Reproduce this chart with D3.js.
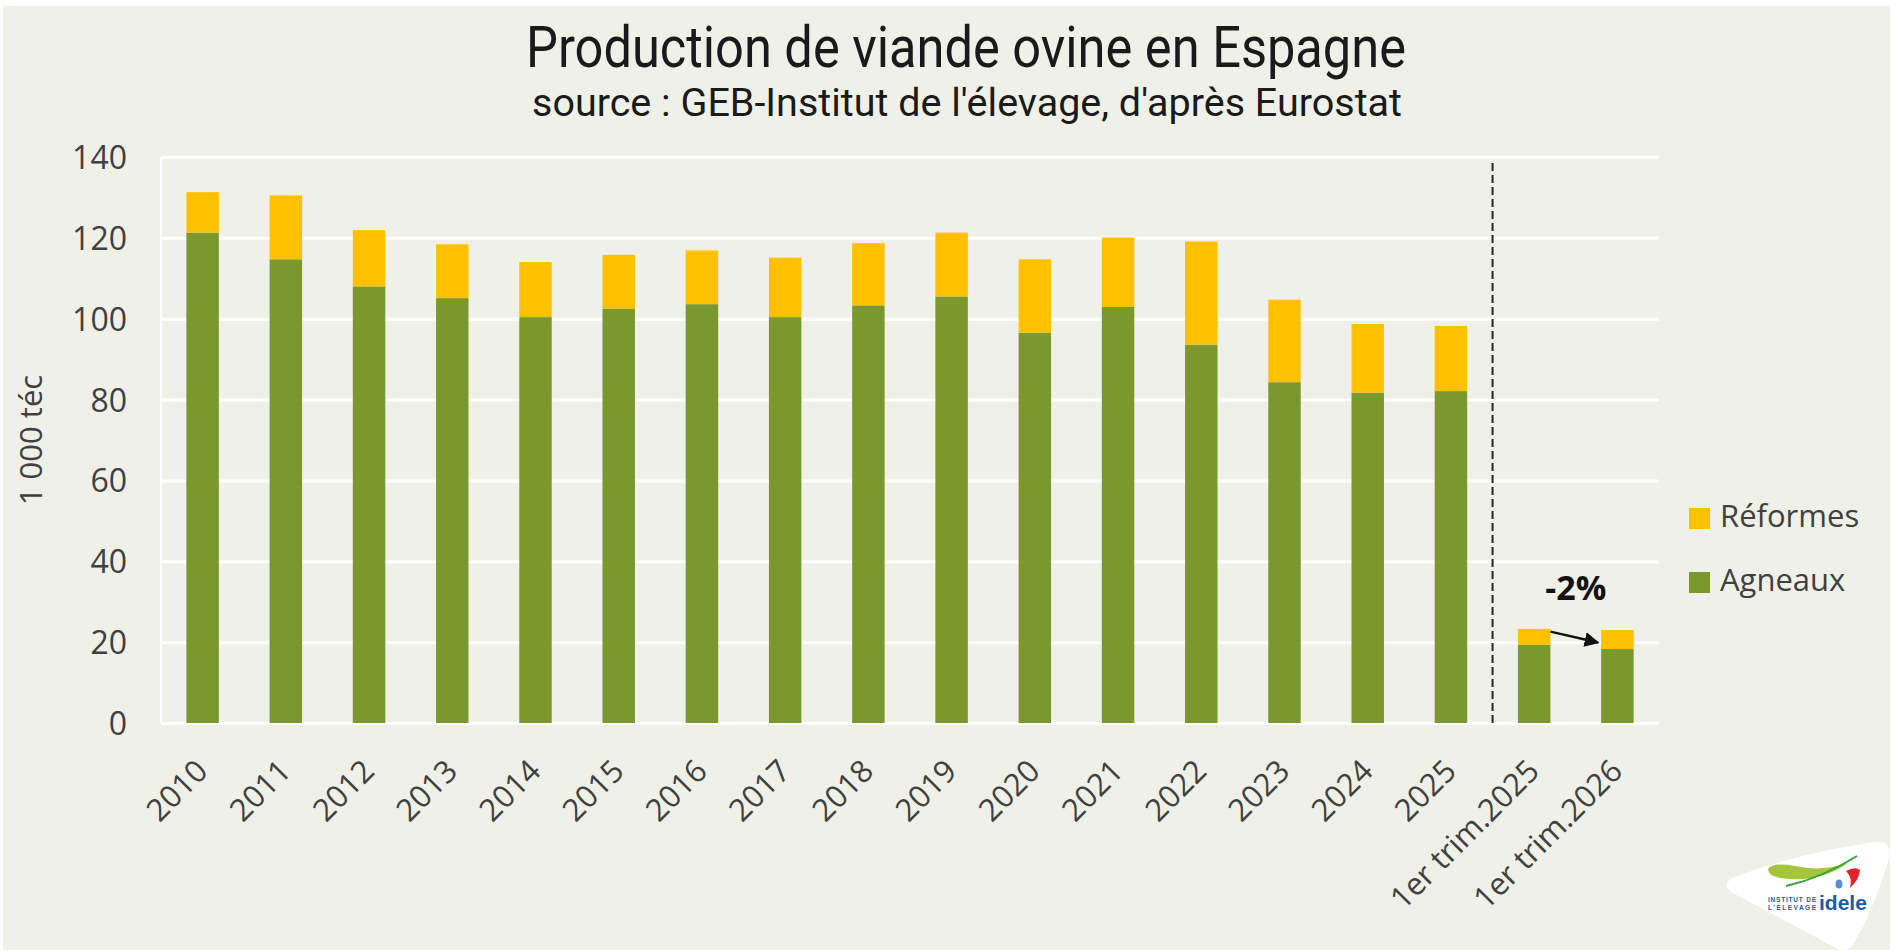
<!DOCTYPE html>
<html>
<head>
<meta charset="utf-8">
<script src="https://cdn.jsdelivr.net/npm/d3@7"></script>
<style>
  body { margin: 0; background: #fff; }
  svg { display: block; }
</style>
</head>
<body>
<div id="chart"></div>
<script>
// categories and series (1 000 téc)
const categories = ['2010', '2011', '2012', '2013', '2014', '2015', '2016', '2017',
  '2018', '2019', '2020', '2021', '2022', '2023', '2024', '2025',
  '1er trim.2025', '1er trim.2026']
const agneaux = [121.3, 114.7, 108.0, 105.1, 100.4, 102.5, 103.6, 100.4,
  103.3, 105.5, 96.5, 102.9, 93.6, 84.3, 81.7, 82.1, 19.3, 18.3]
const reformes = [10.0, 15.8, 13.9, 13.3, 13.6, 13.3, 13.3, 14.7,
  15.4, 15.8, 18.2, 17.2, 25.5, 20.4, 17.0, 16.1, 4.0, 4.7]
const yTicks = [0, 20, 40, 60, 80, 100, 120, 140]
const seriesNames = ['Agneaux', 'Réformes']
const legendOrder = ['Réformes', 'Agneaux']

const W = 1895
const H = 952
const plot = { left: 161, right: 1659, top: 157, bottom: 723 }

const colors = {
  'Agneaux': '#7b982e',
  'Réformes': '#ffc000'
}
const textColor = '#404040'

const svg = d3.select('#chart')
  .append('svg')
  .attr('width', W)
  .attr('height', H)

// background panel
svg.append('rect')
  .attr('x', 3).attr('y', 6)
  .attr('width', 1887).attr('height', 944)
  .attr('fill', '#eff0e7')

const x = d3.scaleBand()
  .domain(categories)
  .range([plot.left, plot.right])
  .paddingInner(0.61)
  .paddingOuter(0.305)

const y = d3.scaleLinear()
  .domain([0, 140])
  .range([plot.bottom, plot.top])

// gridlines + tick labels
const yAxis = d3.axisLeft(y)
  .tickValues(yTicks)
  .tickSize(-(plot.right - plot.left))
  .tickPadding(34)

const gy = svg.append('g')
  .attr('class', 'axis y-axis')
  .attr('transform', 'translate(' + plot.left + ',0)')
  .call(yAxis)

gy.select('.domain').remove()
gy.selectAll('.tick line')
  .attr('stroke', '#ffffff')
  .attr('stroke-width', 3)
gy.selectAll('.tick text')
  .attr('fill', textColor)
  .attr('font-family', 'Open Sans, sans-serif')
  .attr('font-size', 32)
  .attr('dy', '0.36em')

// white left edge of the plot
svg.append('line')
  .attr('x1', plot.left).attr('x2', plot.left)
  .attr('y1', plot.top).attr('y2', plot.bottom)
  .attr('stroke', '#ffffff')
  .attr('stroke-width', 2)

svg.append('text')
  .attr('transform', 'translate(31,' + (plot.top + plot.bottom) / 2 + ') rotate(-90)')
  .attr('text-anchor', 'middle')
  .attr('dy', '0.35em')
  .attr('fill', textColor)
  .attr('font-family', 'Open Sans, sans-serif')
  .attr('font-size', 31)
  .text('1 000 téc')

// stacked bars
const rows = categories.map((c, i) => ({ cat: c, 'Agneaux': agneaux[i], 'Réformes': reformes[i] }))
const stacked = d3.stack().keys(seriesNames)(rows)

svg.append('g')
  .selectAll('g')
  .data(stacked)
  .enter()
  .append('g')
  .attr('fill', d => colors[d.key])
  .selectAll('rect')
  .data(d => d)
  .enter()
  .append('rect')
  .attr('x', d => x(d.data.cat))
  .attr('y', d => y(d[1]))
  .attr('width', x.bandwidth())
  .attr('height', d => y(d[0]) - y(d[1]))

// x labels, rotated
svg.append('g')
  .selectAll('text')
  .data(categories)
  .enter()
  .append('text')
  .attr('transform', d => {
    const cx = x(d) + x.bandwidth() / 2 + 7
    return 'translate(' + cx + ',' + (plot.bottom + 50) + ') rotate(-45)'
  })
  .attr('text-anchor', 'end')
  .attr('fill', textColor)
  .attr('font-family', 'Open Sans, sans-serif')
  .attr('font-size', 31)
  .text(d => d)

// dashed separator between years and quarters
const sepX = (x(categories[15]) + x(categories[16]) + x.bandwidth()) / 2
svg.append('line')
  .attr('x1', sepX).attr('x2', sepX)
  .attr('y1', plot.top + 6).attr('y2', plot.bottom)
  .attr('stroke', '#262626')
  .attr('stroke-width', 2)
  .attr('stroke-dasharray', '8,4')

// -2% annotation and arrow
svg.append('defs')
  .append('marker')
  .attr('id', 'arrow')
  .attr('viewBox', '0 0 10 10')
  .attr('refX', 9).attr('refY', 5)
  .attr('markerWidth', 6).attr('markerHeight', 6)
  .attr('markerUnits', 'strokeWidth')
  .attr('orient', 'auto')
  .append('path')
  .attr('d', 'M0,0 L10,5 L0,10 z')
  .attr('fill', '#111')

svg.append('line')
  .attr('x1', x(categories[16]) + x.bandwidth())
  .attr('y1', y(22.6))
  .attr('x2', x(categories[17]) - 3)
  .attr('y2', y(19.9))
  .attr('stroke', '#111')
  .attr('stroke-width', 2.5)
  .attr('marker-end', 'url(#arrow)')

svg.append('text')
  .attr('x', (x(categories[16]) + x(categories[17]) + x.bandwidth()) / 2)
  .attr('y', 600)
  .attr('text-anchor', 'middle')
  .attr('fill', '#111')
  .attr('font-family', 'Open Sans, sans-serif')
  .attr('font-weight', 700)
  .attr('font-size', 34)
  .text('-2%')

// legend
const legend = svg.append('g')
  .selectAll('g')
  .data(legendOrder)
  .enter()
  .append('g')
  .attr('transform', (d, i) => 'translate(1689,' + (508 + i * 64) + ')')

legend.append('rect')
  .attr('width', 21).attr('height', 21)
  .attr('fill', d => colors[d])

legend.append('text')
  .attr('x', 31).attr('y', 19)
  .attr('fill', textColor)
  .attr('font-family', 'Open Sans, sans-serif')
  .attr('font-size', 31)
  .text(d => d)

// titles
svg.append('text')
  .attr('x', 526).attr('y', 67)
  .attr('textLength', 880)
  .attr('lengthAdjust', 'spacingAndGlyphs')
  .attr('fill', '#1a1a1a')
  .attr('font-family', 'Roboto, sans-serif')
  .attr('font-size', 58)
  .text('Production de viande ovine en Espagne')

svg.append('text')
  .attr('x', 532).attr('y', 116)
  .attr('textLength', 870)
  .attr('lengthAdjust', 'spacingAndGlyphs')
  .attr('fill', '#1a1a1a')
  .attr('font-family', 'Roboto, sans-serif')
  .attr('font-size', 39)
  .text("source : GEB-Institut de l'élevage, d'après Eurostat")

// idele logo, roughly
const logo = svg.append('g')
logo.append('path')
  .attr('d', 'M1732,878 Q1800,852 1876,842 Q1893,841 1889,858 Q1872,915 1852,946 Q1844,954 1832,946 Q1775,915 1731,892 Q1722,885 1732,878 Z')
  .attr('fill', '#ffffff')
logo.append('path')
  .attr('d', 'M1768,869 Q1772,862 1795,866 Q1822,872 1848,863 Q1822,881 1790,879 Q1768,878 1768,869 Z')
  .attr('fill', '#a5c63b')
logo.append('path')
  .attr('d', 'M1786,886 Q1822,878 1857,856')
  .attr('fill', 'none')
  .attr('stroke', '#35a53a')
  .attr('stroke-width', 2)
logo.append('path')
  .attr('d', 'M1846,871 Q1855,866 1860,870 Q1859,880 1850,888 Q1853,878 1846,871 Z')
  .attr('fill', '#e3232a')
logo.append('ellipse')
  .attr('cx', 1839).attr('cy', 884)
  .attr('rx', 3.5).attr('ry', 4.5)
  .attr('fill', '#5b8fd0')
logo.append('text')
  .attr('x', 1819).attr('y', 910)
  .attr('fill', '#1d5aa8')
  .attr('font-family', 'Liberation Sans, Arial, sans-serif')
  .attr('font-weight', 700)
  .attr('font-size', 21)
  .text('idele')
logo.append('text')
  .attr('x', 1768).attr('y', 902)
  .attr('fill', '#1d5aa8')
  .attr('font-family', 'Liberation Sans, Arial, sans-serif')
  .attr('font-weight', 700)
  .attr('font-size', 6.5)
  .attr('textLength', 48)
  .text('INSTITUT DE')
logo.append('text')
  .attr('x', 1768).attr('y', 910)
  .attr('fill', '#1d5aa8')
  .attr('font-family', 'Liberation Sans, Arial, sans-serif')
  .attr('font-weight', 700)
  .attr('font-size', 6.5)
  .attr('textLength', 48)
  .text("L'ÉLEVAGE")
</script>
</body>
</html>
